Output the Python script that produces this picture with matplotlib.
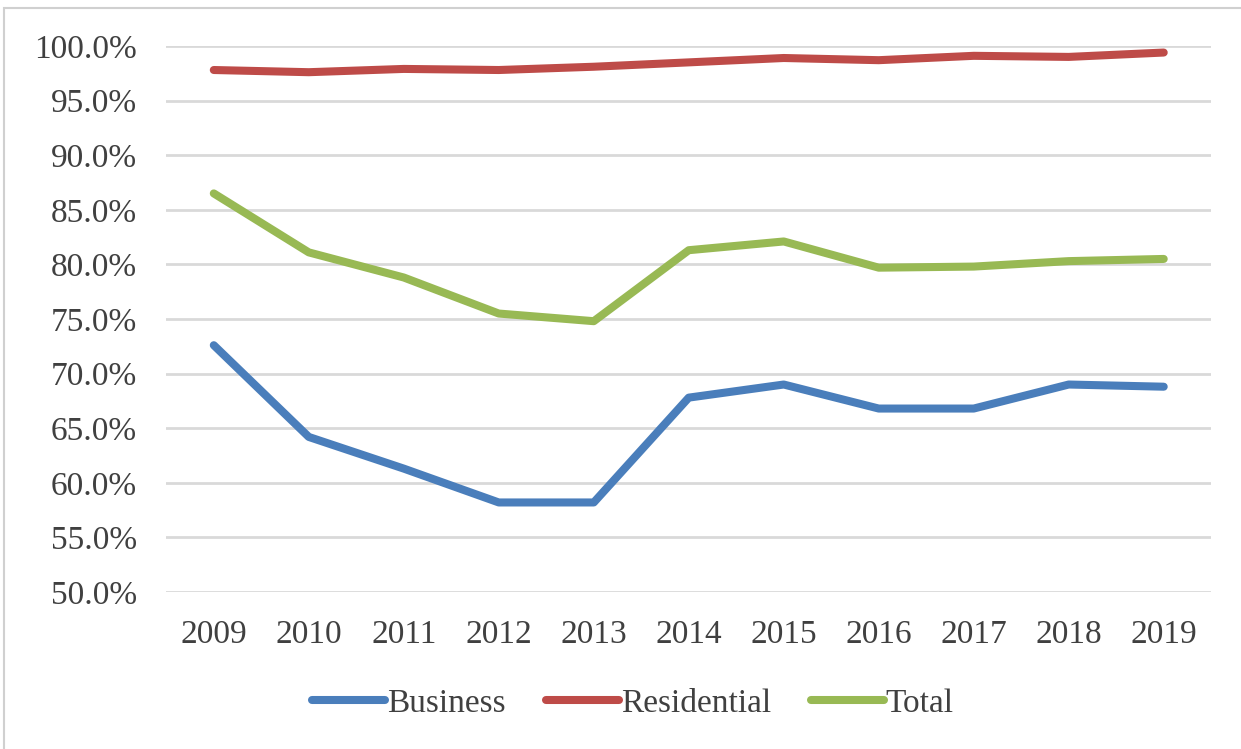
import matplotlib
matplotlib.use("Agg")
import matplotlib.pyplot as plt
from matplotlib.patches import Rectangle
from matplotlib.ticker import PercentFormatter

years = ["2009", "2010", "2011", "2012", "2013", "2014", "2015", "2016", "2017", "2018", "2019"]
business = [72.6, 64.2, 61.3, 58.2, 58.2, 67.8, 69.0, 66.8, 66.8, 69.0, 68.8]
residential = [97.8, 97.6, 97.9, 97.8, 98.1, 98.5, 98.9, 98.7, 99.1, 99.0, 99.4]
total = [86.5, 81.1, 78.8, 75.5, 74.8, 81.3, 82.1, 79.7, 79.8, 80.3, 80.5]

plt.rcParams['font.family'] = ['Liberation Serif', 'DejaVu Serif']

fig = plt.figure(figsize=(12.41, 7.49), dpi=100)
ax = fig.add_axes([0.134, 0.2096, 0.842, 0.729])

x = list(range(len(years)))
lw = 5.8
ax.plot(x, business, color='#4A7EBB', lw=lw, label='Business', solid_capstyle='round', solid_joinstyle='round')
ax.plot(x, residential, color='#BE4B48', lw=lw, label='Residential', solid_capstyle='round', solid_joinstyle='round')
ax.plot(x, total, color='#98B954', lw=lw, label='Total', solid_capstyle='round', solid_joinstyle='round')

ax.set_xlim(-0.5, len(years) - 0.5)
ax.set_ylim(50, 100)
ax.set_yticks([50, 55, 60, 65, 70, 75, 80, 85, 90, 95, 100])
ax.yaxis.set_major_formatter(PercentFormatter(decimals=1))
ax.set_xticks(x)
ax.set_xticklabels(years)
ax.tick_params(axis='both', length=0, labelsize=24, colors='#404040')
ax.tick_params(axis='x', pad=20)
ax.tick_params(axis='y', pad=21)
ax.grid(axis='y', color='#D9D9D9', lw=2)
ax.set_axisbelow(True)
for s in ax.spines.values():
    s.set_visible(False)

leg = fig.legend(loc='center', bbox_to_anchor=(0.51, 0.061), ncol=3, frameon=False,
                 fontsize=24, handlelength=2.2, handletextpad=0.05, columnspacing=1.2)
for t in leg.get_texts():
    t.set_color('#404040')

fig.patches.append(Rectangle((4 / 1241, -0.05), 1.1, 1 - 8 / 749 + 0.05, transform=fig.transFigure,
                             fill=False, edgecolor='#D0D0D0', lw=1.5))

fig.savefig('out.png', dpi=100)
